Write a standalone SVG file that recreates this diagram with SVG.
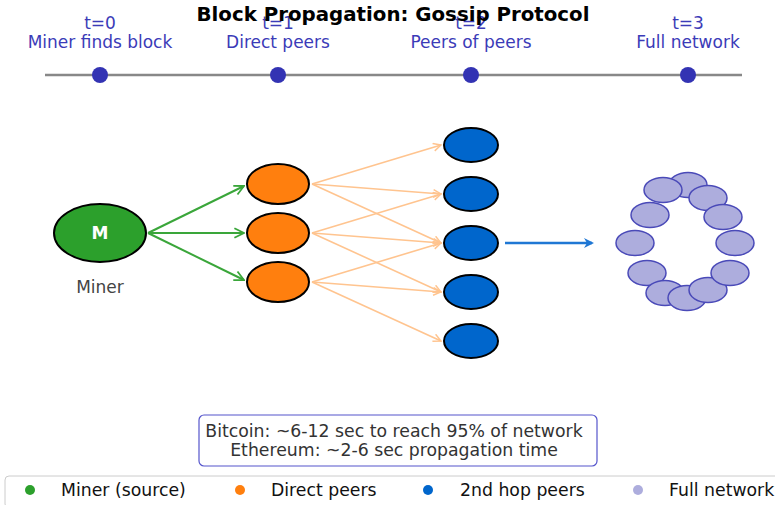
<svg xmlns="http://www.w3.org/2000/svg" width="775" height="505" viewBox="0 0 775 505">
<defs>
<style>
text{font-family:"DejaVu Sans","Liberation Sans",sans-serif}
.tl{fill:#3b3bb8;font-size:17px;text-anchor:middle}
.dot{fill:#3333b3}
.m{fill:#2ca02c;stroke:#000;stroke-width:2}
.o{fill:#ff7f0e;stroke:#000;stroke-width:2}
.b{fill:#0066cc;stroke:#000;stroke-width:2}
.f{fill:#adaddd;stroke:#4a4ab8;stroke-width:1.5}
.ga{stroke:#3aa63a;stroke-width:2;fill:none;marker-end:url(#ag)}
.oa{stroke:#ffc48f;stroke-width:1.6;fill:none;marker-end:url(#ao)}
.leg{font-size:17.3px;fill:#111}
</style>
<marker id="ag" viewBox="0 0 10 10" refX="9" refY="5" markerWidth="6" markerHeight="6" orient="auto" markerUnits="strokeWidth"><path d="M1,1 L9,5 L1,9" fill="none" stroke="#3aa63a" stroke-width="1.5"/></marker>
<marker id="ao" viewBox="0 0 10 10" refX="9" refY="5" markerWidth="6" markerHeight="6" orient="auto" markerUnits="strokeWidth"><path d="M1,1 L9,5 L1,9" fill="none" stroke="#ffc48f" stroke-width="1.5"/></marker>
<marker id="ab" viewBox="0 0 10 10" refX="8" refY="5" markerWidth="4" markerHeight="4" orient="auto" markerUnits="strokeWidth"><path d="M0,0 L10,5 L0,10 L3,5 z" fill="#1f77d4"/></marker>
</defs>
<rect width="775" height="505" fill="#fff"/>
<g id="timeline">
<line x1="45" y1="75" x2="742" y2="75" stroke="#888" stroke-width="2.5"/>
<circle class="dot" cx="100" cy="75" r="8"/>
<circle class="dot" cx="278" cy="75" r="8"/>
<circle class="dot" cx="471" cy="75" r="8"/>
<circle class="dot" cx="688" cy="75" r="8"/>
<text class="tl" x="100" y="29">t=0</text>
<text class="tl" x="100" y="48">Miner finds block</text>
<text class="tl" x="278" y="29">t=1</text>
<text class="tl" x="278" y="48">Direct peers</text>
<text class="tl" x="471" y="29">t=2</text>
<text class="tl" x="471" y="48">Peers of peers</text>
<text class="tl" x="688" y="29">t=3</text>
<text class="tl" x="688" y="48">Full network</text>
</g>
<text x="393" y="21" font-size="19.8" font-weight="bold" text-anchor="middle" fill="#000">Block Propagation: Gossip Protocol</text>
<g id="connectors">
<line class="ga" x1="148" y1="233" x2="244" y2="186"/>
<line class="ga" x1="148" y1="233" x2="244" y2="233"/>
<line class="ga" x1="148" y1="233" x2="244" y2="280"/>
<line class="oa" x1="312" y1="184" x2="441" y2="145"/>
<line class="oa" x1="312" y1="184" x2="441" y2="194"/>
<line class="oa" x1="312" y1="184" x2="441" y2="243"/>
<line class="oa" x1="312" y1="233" x2="441" y2="194"/>
<line class="oa" x1="312" y1="233" x2="441" y2="243"/>
<line class="oa" x1="312" y1="233" x2="441" y2="292"/>
<line class="oa" x1="312" y1="282" x2="441" y2="243"/>
<line class="oa" x1="312" y1="282" x2="441" y2="292"/>
<line class="oa" x1="312" y1="282" x2="441" y2="341"/>
<line x1="505" y1="243" x2="592" y2="243" stroke="#1f77d4" stroke-width="2.5" marker-end="url(#ab)"/>
</g>
<g id="miner">
<ellipse class="m" cx="100" cy="233" rx="46" ry="29"/>
<text x="100" y="239" font-size="17" font-weight="bold" fill="#fff" text-anchor="middle">M</text>
<text x="100" y="293" font-size="17" fill="#444" text-anchor="middle">Miner</text>
</g>
<g id="peer1"><ellipse class="o" cx="278" cy="184" rx="31" ry="20"/></g>
<g id="peer2"><ellipse class="o" cx="278" cy="233" rx="31" ry="20"/></g>
<g id="peer3"><ellipse class="o" cx="278" cy="282" rx="31" ry="20"/></g>
<g id="hop1"><ellipse class="b" cx="471" cy="145" rx="27" ry="17"/></g>
<g id="hop2"><ellipse class="b" cx="471" cy="194" rx="27" ry="17"/></g>
<g id="hop3"><ellipse class="b" cx="471" cy="243" rx="27" ry="17"/></g>
<g id="hop4"><ellipse class="b" cx="471" cy="292" rx="27" ry="17"/></g>
<g id="hop5"><ellipse class="b" cx="471" cy="341" rx="27" ry="17"/></g>
<g id="network">
<ellipse class="f" cx="688" cy="185" rx="19" ry="12.5"/>
<ellipse class="f" cx="708" cy="198" rx="19" ry="12.5"/>
<ellipse class="f" cx="663" cy="190" rx="19" ry="12.5"/>
<ellipse class="f" cx="723" cy="217" rx="19" ry="12.5"/>
<ellipse class="f" cx="650" cy="215" rx="19" ry="12.5"/>
<ellipse class="f" cx="635" cy="243" rx="19" ry="12.5"/>
<ellipse class="f" cx="735" cy="243" rx="19" ry="12.5"/>
<ellipse class="f" cx="647" cy="273" rx="19" ry="12.5"/>
<ellipse class="f" cx="665" cy="293" rx="19" ry="12.5"/>
<ellipse class="f" cx="687" cy="298" rx="19" ry="12.5"/>
<ellipse class="f" cx="708" cy="290" rx="19" ry="12.5"/>
<ellipse class="f" cx="730" cy="273" rx="19" ry="12.5"/>
</g>
<g id="info">
<rect x="199" y="415" width="398" height="51" rx="5" fill="#fff" stroke="#5555cc" stroke-width="1.2"/>
<text x="394" y="437" font-size="17.3" fill="#333" text-anchor="middle">Bitcoin: ~6-12 sec to reach 95% of network</text>
<text x="394" y="456" font-size="17.3" fill="#333" text-anchor="middle">Ethereum: ~2-6 sec propagation time</text>
</g>
<g id="legend">
<rect x="5" y="476" width="780" height="32" rx="4" fill="#fff" stroke="#ccc" stroke-width="1"/>
<circle cx="30" cy="490" r="5" fill="#2ca02c"/>
<text class="leg" x="61" y="496">Miner (source)</text>
<circle cx="240" cy="490" r="5" fill="#ff7f0e"/>
<text class="leg" x="271" y="496">Direct peers</text>
<circle cx="428" cy="490" r="5" fill="#0066cc"/>
<text class="leg" x="460" y="496">2nd hop peers</text>
<circle cx="638" cy="490" r="5" fill="#adaddd"/>
<text class="leg" x="669" y="496">Full network</text>
</g>
</svg>
